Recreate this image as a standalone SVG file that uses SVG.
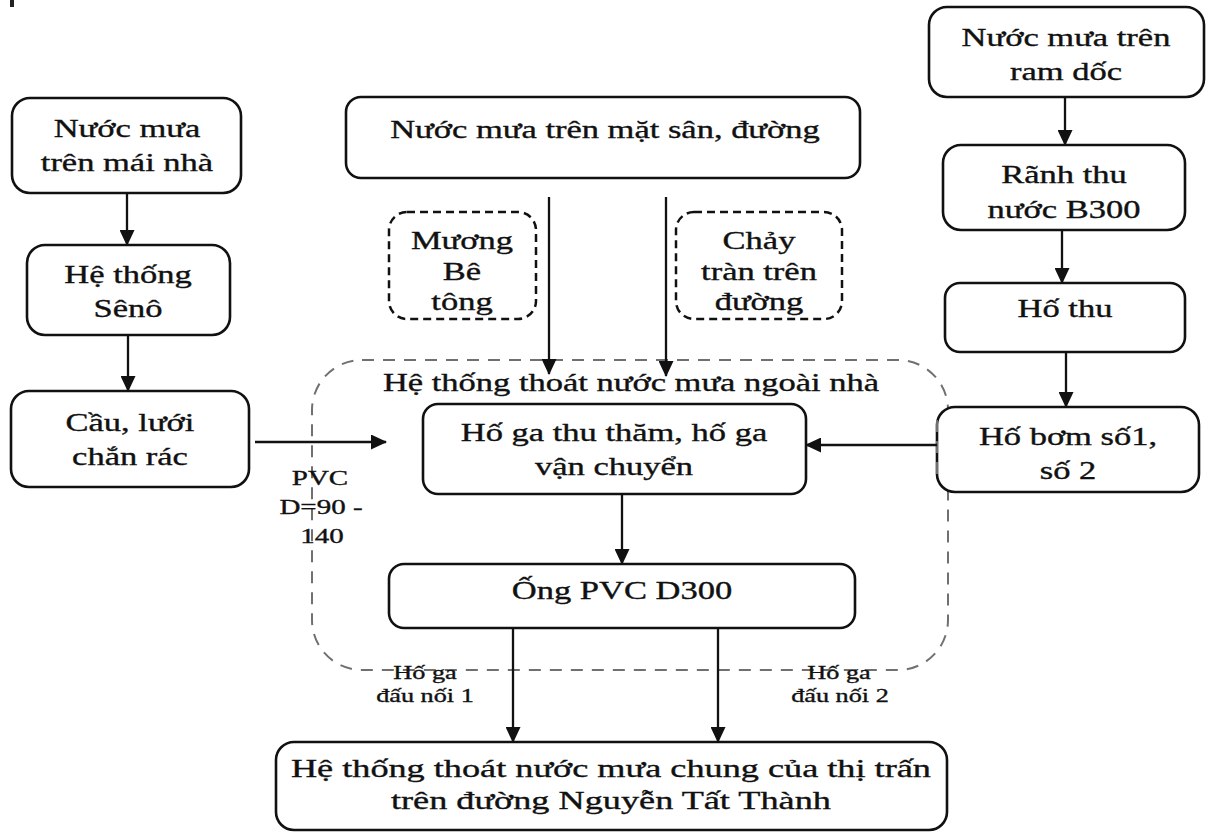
<svg xmlns="http://www.w3.org/2000/svg" width="1214" height="835" viewBox="0 0 1214 835">
<defs>
<marker id="ah" markerUnits="userSpaceOnUse" markerWidth="16" markerHeight="15" refX="15" refY="7.5" orient="auto">
<path d="M0,0 L16,7.5 L0,15 Z" fill="#111"/>
</marker>
<style>
.box{fill:#fff;stroke:#111;stroke-width:2.6}
.dbox{fill:#fff;stroke:#111;stroke-width:2.5;stroke-dasharray:8 5}
.region{fill:none;stroke:#707070;stroke-width:2;stroke-dasharray:12 9}
.con{stroke:#111;stroke-width:2.3;fill:none;marker-end:url(#ah)}
.t{font-family:"Liberation Serif","Times New Roman",serif;font-size:25px;fill:#111;stroke:#111;stroke-width:0.35;text-anchor:middle;transform-box:fill-box;transform-origin:center;transform:scaleX(1.38)}
.s{font-size:21px}
.m{font-size:19px}
</style>
</defs>
<rect x="10" y="0" width="4" height="7" fill="#222"/>
<g id="region">
<rect class="region" x="312" y="360" width="636" height="310" rx="50"/>
<text class="t" x="631" y="391">Hệ thống thoát nước mưa ngoài nhà</text>
</g>
<g id="n-mai-nha"><rect class="box" x="12" y="98" width="229" height="95" rx="18"/>
<text class="t" x="127" y="137">Nước mưa</text><text class="t" x="127" y="171">trên mái nhà</text></g>
<g id="n-seno"><rect class="box" x="27" y="245" width="203" height="90" rx="18"/>
<text class="t" x="128" y="283">Hệ thống</text><text class="t" x="128" y="317">Sênô</text></g>
<g id="n-cau-luoi"><rect class="box" x="11" y="391" width="238" height="96" rx="18"/>
<text class="t" x="130" y="431">Cầu, lưới</text><text class="t" x="130" y="465">chắn rác</text></g>
<g id="n-san-duong"><rect class="box" x="346" y="97" width="514" height="81" rx="15"/>
<text class="t" x="605" y="138">Nước mưa trên mặt sân, đường</text></g>
<g id="n-muong"><rect class="dbox" x="389" y="212" width="147" height="107" rx="18"/>
<text class="t" x="462" y="249">Mương</text><text class="t" x="462" y="280">Bê</text><text class="t" x="462" y="310">tông</text></g>
<g id="n-chay-tran"><rect class="dbox" x="676" y="212" width="166" height="107" rx="18"/>
<text class="t" x="759" y="249">Chảy</text><text class="t" x="759" y="280">tràn trên</text><text class="t" x="759" y="310">đường</text></g>
<g id="n-ho-ga"><rect class="box" x="423" y="404" width="383" height="90" rx="15"/>
<text class="t" x="614" y="441">Hố ga thu thăm, hố ga</text><text class="t" x="614" y="475">vận chuyển</text></g>
<g id="n-ong-pvc"><rect class="box" x="389" y="564" width="466" height="64" rx="15"/>
<text class="t" x="622" y="599">Ống PVC D300</text></g>
<g id="n-chung"><rect class="box" x="276" y="742" width="671" height="88" rx="18"/>
<text class="t" x="611" y="777" style="transform:scaleX(1.45)">Hệ thống thoát nước mưa chung của thị trấn</text><text class="t" x="611" y="809" style="transform:scaleX(1.45)">trên đường Nguyễn Tất Thành</text></g>
<g id="n-ram-doc"><rect class="box" x="929" y="7" width="275" height="90" rx="18"/>
<text class="t" x="1066" y="46">Nước mưa trên</text><text class="t" x="1066" y="80">ram dốc</text></g>
<g id="n-ranh-thu"><rect class="box" x="943" y="145" width="242" height="85" rx="18"/>
<text class="t" x="1064" y="183">Rãnh thu</text><text class="t" x="1064" y="218">nước B300</text></g>
<g id="n-ho-thu"><rect class="box" x="945" y="283" width="240" height="69" rx="15"/>
<text class="t" x="1065" y="317">Hố  thu</text></g>
<g id="n-ho-bom"><rect class="box" x="937" y="407" width="262" height="85" rx="18"/>
<text class="t" x="1068" y="445">Hố bơm số1,</text><text class="t" x="1068" y="479">số 2</text></g>
<path d="M937,420 L937,480" stroke="#707070" stroke-width="2" stroke-dasharray="12 9" fill="none"/>
<g id="connectors">
<line class="con" x1="127" y1="193" x2="127" y2="245"/>
<line class="con" x1="128" y1="335" x2="128" y2="391"/>
<line class="con" x1="255" y1="442" x2="386" y2="442"/>
<line class="con" x1="549" y1="197" x2="549" y2="374"/>
<line class="con" x1="666" y1="197" x2="666" y2="376"/>
<line class="con" x1="937" y1="445" x2="806" y2="445"/>
<line class="con" x1="622" y1="494" x2="622" y2="564"/>
<line class="con" x1="513" y1="628" x2="513" y2="742"/>
<line class="con" x1="718" y1="628" x2="718" y2="742"/>
<line class="con" x1="1065" y1="97" x2="1065" y2="145"/>
<line class="con" x1="1062" y1="230" x2="1062" y2="283"/>
<line class="con" x1="1066" y1="352" x2="1066" y2="407"/>
<text class="t s" x="320" y="485">PVC</text>
<text class="t s" x="321" y="514">D=90 -</text>
<text class="t s" x="322" y="543">140</text>
<text class="t m" x="425" y="679">Hố ga</text>
<text class="t m" x="425" y="702">đấu nối 1</text>
<text class="t m" x="839" y="679">Hố ga</text>
<text class="t m" x="840" y="702">đấu nối 2</text>
</g>
</svg>
